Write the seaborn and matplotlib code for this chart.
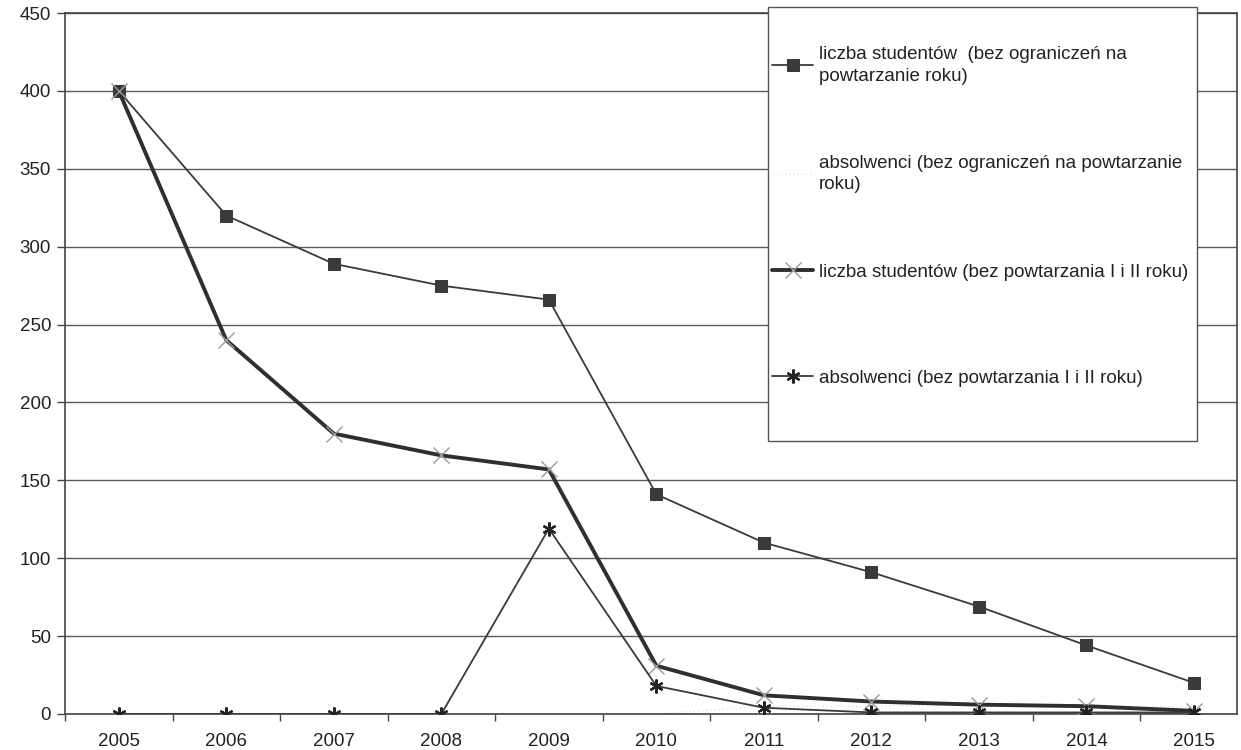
import matplotlib
matplotlib.use("Agg")
import matplotlib.pyplot as plt
import seaborn as sns
import pandas as pd
from matplotlib.patches import Rectangle
from matplotlib.ticker import FixedLocator

# Years on the category axis
years = [2005, 2006, 2007, 2008, 2009, 2010, 2011, 2012, 2013, 2014, 2015]

# Series values
studenci_bez_ograniczen = [400, 320, 289, 275, 266, 141, 110, 91, 69, 44, 20]
absolwenci_bez_ograniczen = [0, 0, 0, 0, 0, 0, 5, 5, 6, 6, 4]
studenci_bez_powtarzania = [400, 240, 180, 166, 157, 31, 12, 8, 6, 5, 2]
absolwenci_bez_powtarzania = [0, 0, 0, 0, 119, 18, 4, 1, 1, 1, 1]

labels = [
    "liczba studentów  (bez ograniczeń na\npowtarzanie roku)",
    "absolwenci (bez ograniczeń na powtarzanie\nroku)",
    "liczba studentów (bez powtarzania I i II roku)",
    "absolwenci (bez powtarzania I i II roku)",
]
y_ticks = [0, 50, 100, 150, 200, 250, 300, 350, 400, 450]

sns.set_theme(style="white")
plt.rcParams["font.family"] = ["Liberation Sans", "DejaVu Sans"]

W, H = 1241, 750
fig = plt.figure(figsize=(W / 100, H / 100), dpi=100)
ax = fig.add_axes([65 / W, 1 - 714 / H, (1237 - 65) / W, (714 - 13) / H])

dark = "#3a3a3a"

# Series 1: squares, thin line
d1 = pd.DataFrame({"rok": years, "v": studenci_bez_ograniczen})
sns.lineplot(data=d1, x="rok", y="v", ax=ax, color=dark, lw=1.3,
             marker="s", markersize=8, markerfacecolor=dark,
             markeredgecolor=dark, label=labels[0], zorder=4)

# Series 2: very light dotted line
d2 = pd.DataFrame({"rok": years, "v": absolwenci_bez_ograniczen})
sns.lineplot(data=d2, x="rok", y="v", ax=ax, color="#e2e2e2", lw=1.0,
             linestyle=(0, (1, 2)), marker="None", label=labels[1], zorder=2)

# Series 3: thick line with light x markers
d3 = pd.DataFrame({"rok": years, "v": studenci_bez_powtarzania})
sns.lineplot(data=d3, x="rok", y="v", ax=ax, color="#2f2f2f", lw=2.8,
             marker="x", markersize=12, markeredgewidth=1.0,
             markeredgecolor="#9a9a9a", label=labels[2], zorder=5)

# Series 4: thin line with asterisk markers
d4 = pd.DataFrame({"rok": years, "v": absolwenci_bez_powtarzania})
sns.lineplot(data=d4, x="rok", y="v", ax=ax, color=dark, lw=1.3,
             marker=(6, 2, 0), markersize=10, markeredgewidth=1.6,
             markeredgecolor="#222222", label=labels[3], zorder=6)

ax.set_xlim(2004.5, 2015.4)
ax.set_ylim(0, 450)
ax.set_xlabel("")
ax.set_ylabel("")

ax.xaxis.set_major_locator(FixedLocator(years))
ax.set_xticklabels([str(y) for y in years])
ax.xaxis.set_minor_locator(FixedLocator([y - 0.5 for y in years]))
ax.yaxis.set_major_locator(FixedLocator(y_ticks))

ax.tick_params(axis="x", which="major", length=0, pad=14, labelsize=13.5, labelcolor="#222222")
ax.tick_params(axis="x", which="minor", length=5, width=1, color="#444444", direction="out", bottom=True)
ax.tick_params(axis="y", which="major", length=6, width=1, color="#444444", direction="out",
               left=True, pad=4, labelsize=13.5, labelcolor="#222222")

ax.grid(axis="y", color="#5a5a5a", lw=1.0)
ax.grid(axis="x", visible=False)
for side, sp in ax.spines.items():
    sp.set_visible(True)
    sp.set_color("#444444")
    sp.set_linewidth(1.2)

# Legend box drawn as a white panel over the plot area
box = Rectangle((768 / W, 1 - 441 / H), (1197 - 768) / W, (441 - 7) / H,
                transform=fig.transFigure, facecolor="white",
                edgecolor="#555555", lw=1.0, zorder=9)
fig.add_artist(box)

ax.legend_.remove()
handles, lbls = ax.get_legend_handles_labels()
legend_kw = dict(fontsize=13.5, frameon=False, handlelength=2.2,
                 handletextpad=0.3, borderpad=0, borderaxespad=0)
leg_top = fig.legend(handles[:3], lbls[:3], loc="upper left",
                     bbox_to_anchor=(772 / W, 1 - 46 / H),
                     labelspacing=3.75, **legend_kw)
leg_bottom = fig.legend(handles[3:], lbls[3:], loc="center left",
                        bbox_to_anchor=(772 / W, 1 - 378 / H), **legend_kw)
for leg in (leg_top, leg_bottom):
    leg.set_zorder(10)
    for t in leg.get_texts():
        t.set_color("#222222")
        t.set_linespacing(1.35)

fig.savefig("out.png", dpi=100, facecolor="white")
